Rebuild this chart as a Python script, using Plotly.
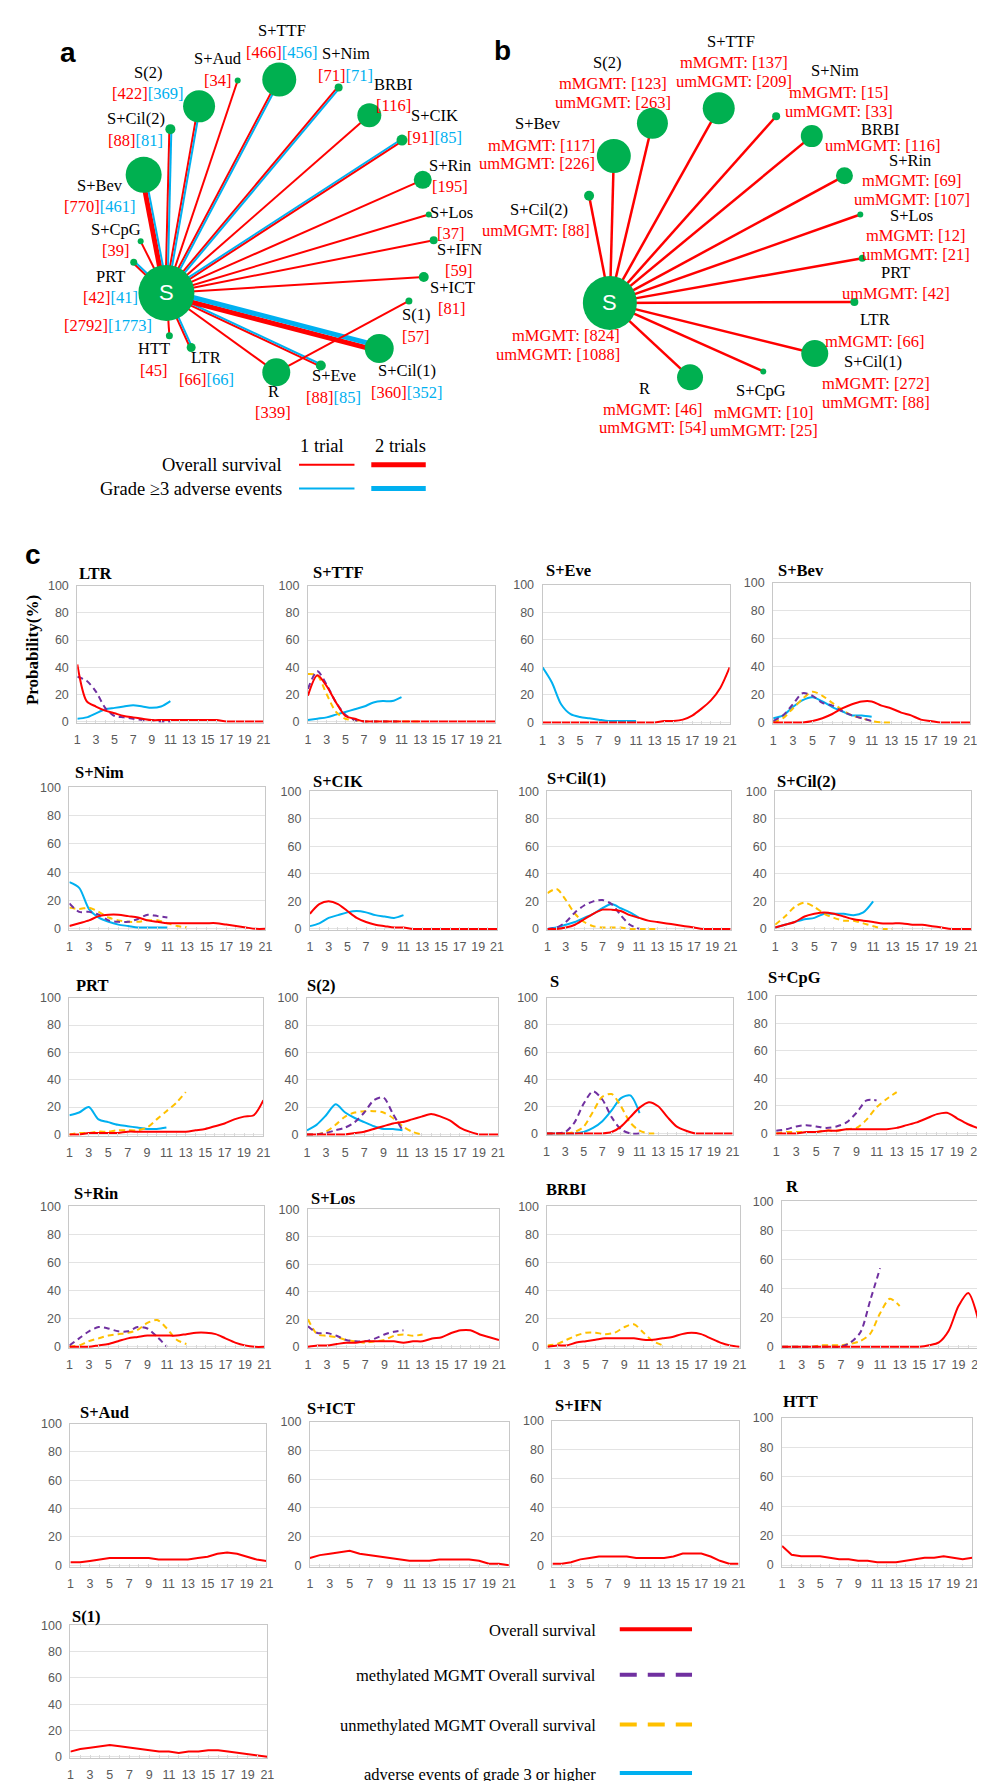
import math
import plotly.graph_objects as go

W, H = 985, 1781

# ------------------------------------------------------------------ DATA
# Panel a: network of overall survival / grade>=3 AE evidence
A_NODES = ["S", "S+TTF", "S+Aud", "S(2)", "S+Cil(2)", "S+Bev", "S+CpG", "PRT", "HTT", "LTR", "R",
           "S+Eve", "S+Cil(1)", "S(1)", "S+ICT", "S+IFN", "S+Los", "S+Rin", "S+CIK", "BRBI", "S+Nim"]
A_OS_N = [2792, 466, 34, 422, 88, 770, 39, 42, 45, 66, 339, 88, 360, 57, 81, 59, 37, 195, 91, 116, 71]
A_AE_N = [1773, 456, None, 369, 81, 461, None, 41, None, 66, None, 85, 352, None, None, None, None, None, 85, None, 71]

A_EDGE_FROM = ["S"] * 19 + ["R"]
A_EDGE_TO = ["S+TTF", "S+Aud", "S(2)", "S+Cil(2)", "S+Bev", "S+CpG", "PRT", "HTT", "LTR", "R", "S+Eve",
             "S+Cil(1)", "S+ICT", "S+IFN", "S+Los", "S+Rin", "S+CIK", "BRBI", "S+Nim", "S(1)"]
A_EDGE_OS_TRIALS = [1, 1, 1, 1, 2, 1, 1, 1, 1, 1, 1, 2, 1, 1, 1, 1, 1, 1, 1, 1]
A_EDGE_AE_TRIALS = [1, 0, 1, 1, 1, 0, 1, 0, 1, 0, 1, 2, 0, 0, 0, 0, 1, 0, 1, 0]

# Panel b: MGMT subgroup network
B_NODES = ["S", "S+Bev", "S(2)", "S+TTF", "S+Nim", "BRBI", "S+Rin", "S+Los", "PRT", "LTR",
           "S+Cil(1)", "S+CpG", "R", "S+Cil(2)"]
B_MMGMT_N = [824, 117, 123, 137, 15, None, 69, 12, None, 66, 272, 10, 46, None]
B_UMMGMT_N = [1088, 226, 263, 209, 33, 116, 107, 21, 42, None, 88, 25, 54, 88]

# Panel c: rank probabilities (%)
RANKS = [1, 2, 3, 4, 5, 6, 7, 8, 9, 10, 11, 12, 13, 14, 15, 16, 17, 18, 19, 20, 21]
RANK_TICKS = [1, 3, 5, 7, 9, 11, 13, 15, 17, 19, 21]
Y_TICKS = [0, 20, 40, 60, 80, 100]

C_ORDER = ["LTR", "S+TTF", "S+Eve", "S+Bev",
           "S+Nim", "S+CIK", "S+Cil(1)", "S+Cil(2)",
           "PRT", "S(2)", "S", "S+CpG",
           "S+Rin", "S+Los", "BRBI", "R",
           "S+Aud", "S+ICT", "S+IFN", "HTT",
           "S(1)"]

OS_PROB = {
    "LTR": [42, 15, 11, 8, 6, 4, 3, 2, 1, 1, 1, 1, 1, 1, 1, 1, 0, 0, 0, 0, 0],
    "S+TTF": [19, 34, 26, 14, 4, 2, 0, 0, 0, 0, 0, 0, 0, 0, 0, 0, 0, 0, 0, 0, 0],
    "S+Eve": [0, 0, 0, 0, 0, 0, 0, 0, 0, 0, 0, 0, 0, 1, 1, 2, 5, 10, 16, 25, 40],
    "S+Bev": [0, 0, 0, 0, 1, 3, 6, 10, 13, 15, 15, 12, 10, 7, 5, 2, 1, 0, 0, 0, 0],
    "S+Nim": [2, 4, 6, 9, 10, 10, 9, 8, 6, 5, 4, 4, 4, 4, 4, 4, 3, 2, 1, 0, 0],
    "S+CIK": [11, 18, 20, 18, 13, 8, 5, 3, 2, 1, 1, 0, 0, 0, 0, 0, 0, 0, 0, 0, 0],
    "S+Cil(1)": [0, 0, 1, 3, 7, 11, 14, 14, 13, 10, 8, 6, 5, 4, 3, 2, 1, 0, 0, 0, 0],
    "S+Cil(2)": [1, 3, 5, 9, 11, 12, 11, 9, 7, 6, 5, 4, 4, 4, 3, 3, 2, 1, 0, 0, 0],
    "PRT": [0, 0, 1, 1, 1, 1, 2, 2, 2, 2, 2, 2, 2, 3, 4, 6, 8, 11, 13, 14, 25],
    "S(2)": [0, 0, 0, 0, 0, 1, 2, 4, 6, 8, 9, 11, 13, 15, 13, 10, 5, 2, 0, 0, 0],
    "S": [0, 0, 0, 0, 0, 0, 0, 1, 5, 12, 19, 23, 20, 12, 5, 2, 0, 0, 0, 0, 0],
    "S+CpG": [0, 0, 0, 1, 1, 2, 2, 3, 3, 3, 3, 3, 4, 6, 8, 11, 14, 15, 11, 7, 4],
    "S+Rin": [0, 0, 0, 1, 2, 4, 6, 7, 8, 8, 8, 8, 9, 10, 10, 9, 6, 3, 1, 0, 0],
    "S+Los": [0, 1, 1, 2, 3, 3, 4, 4, 4, 4, 3, 4, 4, 6, 7, 10, 12, 12, 9, 7, 5],
    "BRBI": [0, 1, 1, 3, 4, 5, 6, 6, 6, 6, 5, 5, 6, 7, 9, 10, 9, 6, 3, 1, 0],
    "R": [0, 0, 0, 0, 0, 0, 0, 0, 0, 0, 0, 0, 0, 0, 0, 1, 3, 11, 28, 37, 19],
    "S+Aud": [2, 2, 3, 4, 5, 5, 5, 5, 5, 4, 4, 4, 4, 5, 6, 8, 9, 8, 6, 4, 3],
    "S+ICT": [5, 7, 8, 9, 10, 8, 7, 6, 5, 4, 3, 3, 3, 4, 4, 4, 4, 3, 1, 1, 0],
    "S+IFN": [1, 1, 2, 4, 5, 6, 6, 6, 6, 5, 5, 5, 5, 6, 8, 8, 8, 6, 3, 1, 1],
    "HTT": [13, 7, 6, 6, 6, 5, 4, 4, 3, 3, 2, 2, 2, 3, 4, 5, 5, 6, 5, 4, 5],
    "S(1)": [4, 6, 7, 8, 9, 8, 7, 6, 5, 4, 4, 3, 4, 4, 5, 5, 4, 3, 2, 1, 0],
}

MMGMT_PROB = {
    "LTR": [33, 30, 22, 10, 4, 3, 2, 1, 1, 0, 0],
    "S+TTF": [24, 37, 27, 14, 5, 1, 0, 0, 0, 0, 0],
    "S+Bev": [1, 5, 13, 21, 19, 14, 12, 8, 5, 3, 1],
    "S+Nim": [18, 12, 12, 10, 6, 5, 5, 7, 10, 9, 8],
    "S+Cil(1)": [0, 1, 5, 12, 17, 20, 21, 18, 10, 3, 0],
    "S(2)": [0, 0, 1, 3, 5, 9, 16, 25, 27, 15, 3],
    "S": [0, 0, 1, 8, 22, 31, 25, 12, 3, 0, 0],
    "S+CpG": [2, 3, 5, 6, 5, 4, 5, 8, 15, 24, 24],
    "S+Rin": [1, 6, 11, 14, 13, 11, 11, 14, 13, 7, 0],
    "S+Los": [15, 10, 10, 8, 5, 4, 4, 6, 9, 11, 12],
    "R": [0, 0, 0, 0, 0, 0, 0, 3, 10, 32, 54],
}

UMMGMT_PROB = {
    "S+TTF": [35, 34, 20, 7, 2, 1, 0, 0, 0, 0, 0, 0, 0],
    "S+Bev": [0, 3, 10, 17, 22, 19, 14, 9, 5, 3, 1, 0, 0],
    "S+Nim": [15, 14, 15, 12, 8, 6, 5, 5, 6, 6, 4, 2, 1],
    "S+Cil(1)": [26, 29, 21, 11, 5, 2, 1, 1, 1, 0, 0, 0, 0],
    "S+Cil(2)": [3, 9, 16, 19, 16, 11, 8, 6, 6, 4, 2, 0, 0],
    "PRT": [0, 1, 1, 2, 2, 3, 3, 3, 5, 11, 17, 23, 31],
    "S(2)": [0, 0, 2, 7, 13, 16, 17, 17, 16, 12, 6, 2, 0],
    "S": [0, 0, 0, 1, 5, 16, 27, 29, 20, 8, 2, 0, 0],
    "S+CpG": [0, 1, 1, 1, 1, 2, 2, 3, 4, 10, 19, 25, 30],
    "S+Rin": [0, 1, 4, 6, 8, 9, 10, 12, 17, 19, 13, 5, 2],
    "S+Los": [20, 9, 8, 7, 5, 4, 3, 4, 5, 8, 9, 8, 9],
    "BRBI": [1, 2, 5, 8, 10, 10, 9, 10, 14, 16, 10, 4, 1],
    "R": [0, 0, 0, 0, 1, 1, 1, 2, 4, 9, 23, 33, 28],
}

AE_PROB = {
    "LTR": [2, 3, 6, 9, 10, 11, 12, 11, 10, 11, 15],
    "S+TTF": [1, 2, 3, 5, 7, 9, 11, 14, 15, 15, 18],
    "S+Eve": [40, 29, 13, 6, 4, 3, 2, 1, 1, 1, 1],
    "S+Bev": [3, 5, 11, 16, 18, 15, 11, 8, 5, 5, 4],
    "S+Nim": [33, 29, 14, 8, 5, 3, 2, 1, 1, 1, 1],
    "S+CIK": [2, 4, 8, 10, 12, 13, 12, 10, 9, 8, 10],
    "S+Cil(1)": [0, 1, 3, 5, 8, 11, 15, 18, 15, 12, 8],
    "S+Cil(2)": [1, 3, 5, 7, 8, 11, 11, 11, 10, 12, 20],
    "PRT": [14, 16, 20, 11, 9, 7, 6, 5, 4, 4, 5],
    "S(2)": [3, 7, 14, 22, 16, 12, 9, 6, 4, 4, 3],
    "S": [0, 0, 0, 0, 1, 4, 9, 17, 26, 28, 15],
}

# ------------------------------------------------------------------ LAYOUT (pixel geometry)
A_POS = {  # x, y, marker diameter (px)
    "S": (157, 280, 56), "S+TTF": (271, 65, 34), "S+Aud": (229, 66, 6), "S(2)": (190, 92, 32),
    "S+Cil(2)": (161, 115, 10), "S+Bev": (134, 161, 36), "S+CpG": (131, 228, 6), "PRT": (124, 249, 7),
    "HTT": (160, 323, 7), "LTR": (182, 335, 9), "R": (268, 360, 28), "S+Eve": (313, 353, 10),
    "S+Cil(1)": (372, 336, 29), "S(1)": (402, 288, 7), "S+ICT": (417, 264, 10), "S+IFN": (427, 227, 8),
    "S+Los": (422, 201, 6), "S+Rin": (416, 166, 18), "S+CIK": (395, 126, 11), "BRBI": (362, 101, 24),
    "S+Nim": (331, 73, 8),
}
A_LABELS = {  # x, y of name, y of numbers
    "S+TTF": (274, 16, 38), "S+Aud": (209, 44, 66), "S+Nim": (338, 39, 61), "S(2)": (138, 58, 79),
    "BRBI": (386, 70, 91), "S+CIK": (428, 101, 123), "S+Cil(2)": (126, 104, 126), "S+Rin": (444, 152, 173),
    "S+Bev": (90, 172, 193), "S+Los": (445, 199, 220), "S+CpG": (106, 216, 237), "S+IFN": (453, 236, 257),
    "PRT": (101, 263, 285), "S+ICT": (446, 274, 296), "S": (98, None, 313), "S(1)": (409, 302, 324),
    "HTT": (144, 336, 358), "LTR": (197, 345, 367), "R": (265, 379, 400), "S+Eve": (326, 363, 385),
    "S+Cil(1)": (400, 358, 380),
}
B_POS = {
    "S": (605, 290, 54), "S+Bev": (609, 142, 34), "S(2)": (648, 109, 31), "S+TTF": (715, 94, 32),
    "S+Nim": (773, 102, 8), "BRBI": (809, 122, 22), "S+Rin": (842, 162, 17), "S+Los": (858, 201, 6),
    "PRT": (860, 245, 7), "LTR": (852, 289, 8), "S+Cil(1)": (812, 341, 27), "S+CpG": (760, 359, 6),
    "R": (686, 365, 26), "S+Cil(2)": (584, 182, 10),
}
B_LABELS = {  # name_x, name_y, num_x, num_y, num_anchor
    "S+TTF": (727, 27, 730, 48, "center"), "S(2)": (602, 48, 608, 69, "center"),
    "S+Nim": (832, 56, 836, 78, "center"), "S+Bev": (532, 109, 592, 131, "right"),
    "BRBI": (878, 115, 880, 131, "center"), "S+Rin": (908, 147, 910, 167, "center"),
    "S+Cil(2)": (533, 196, 587, 217, "right"), "S+Los": (910, 202, 914, 222, "center"),
    "PRT": (894, 259, 894, 281, "center"), "LTR": (873, 307, 873, 329, "center"),
    "S+Cil(1)": (871, 349, 874, 371, "center"), "R": (640, 376, 649, 397, "center"),
    "S+CpG": (758, 378, 761, 400, "center"), "S": (None, None, 617, 323, "right"),
}
C_RECT = {  # left, right, top(100), bottom(0)
    "LTR": (67, 255, 575, 713), "S+TTF": (300, 489, 575, 713), "S+Eve": (537, 726, 574, 714),
    "S+Bev": (770, 969, 572, 714),
    "S+Nim": (59, 257, 778, 922), "S+CIK": (302, 491, 782, 922), "S+Cil(1)": (542, 727, 782, 922),
    "S+Cil(2)": (772, 970, 782, 922),
    "PRT": (59, 255, 990, 1129), "S(2)": (299, 492, 990, 1129), "S": (541, 729, 990, 1128),
    "S+CpG": (773, 976, 988, 1128),
    "S+Rin": (59, 256, 1200, 1343), "S+Los": (300, 493, 1203, 1343), "BRBI": (542, 736, 1200, 1343),
    "R": (779, 977, 1195, 1343),
    "S+Aud": (60, 258, 1419, 1563), "S+ICT": (302, 503, 1417, 1563), "S+IFN": (547, 735, 1416, 1563),
    "HTT": (779, 971, 1413, 1563),
    "S(1)": (60, 259, 1622, 1756),
}
C_TITLE = {
    "LTR": (67, 563), "S+TTF": (303, 562), "S+Eve": (538, 560), "S+Bev": (773, 560),
    "S+Nim": (63, 763), "S+CIK": (303, 772), "S+Cil(1)": (539, 769), "S+Cil(2)": (772, 772),
    "PRT": (64, 978), "S(2)": (297, 978), "S": (543, 974), "S+CpG": (763, 970),
    "S+Rin": (62, 1187), "S+Los": (301, 1192), "BRBI": (538, 1183), "R": (781, 1180),
    "S+Aud": (68, 1408), "S+ICT": (297, 1404), "S+IFN": (548, 1401), "HTT": (778, 1397),
    "S(1)": (60, 1613),
}
LINEAR_PANELS = {"S+Aud", "S+ICT", "S+IFN", "HTT", "S(1)"}

RED = "#FF0000"
BLUE = "#00B0F0"
PURPLE = "#7030A0"
ORANGE = "#FFC000"
GREEN = "#00B050"
SERIF = "Liberation Serif, Times New Roman, serif"
SANS = "Liberation Sans, Arial, sans-serif"
TRIAL_WIDTH = {1: 2, 2: 5}

fig = go.Figure()
annotations = []
shapes = []


def text(x, y, s, size=16.5, color="black", family=SERIF, xanchor="center", bold=False, angle=0):
    if bold:
        s = "<b>" + s + "</b>"
    annotations.append(dict(x=x, y=y, xref="x", yref="y", text=s, showarrow=False,
                            xanchor=xanchor, yanchor="middle", textangle=angle,
                            font=dict(family=family, size=size, color=color)))


def seg(x0, y0, x1, y1, color, width):
    fig.add_trace(go.Scatter(x=[x0, x1], y=[y0, y1], mode="lines", xaxis="x", yaxis="y",
                             line=dict(color=color, width=width), hoverinfo="skip"))


# ------------------------------------------------------------------ PANEL A
for f, t, osn, aen in zip(A_EDGE_FROM, A_EDGE_TO, A_EDGE_OS_TRIALS, A_EDGE_AE_TRIALS):
    x0, y0, _ = A_POS[f]
    x1, y1, _ = A_POS[t]
    L = math.hypot(x1 - x0, y1 - y0)
    ux, uy = (x1 - x0) / L, (y1 - y0) / L
    px, py = -uy, ux
    if px - py < 0:
        px, py = -px, -py
    wr = TRIAL_WIDTH[osn]
    if aen:
        wb = TRIAL_WIDTH[aen]
        sep = (wr + wb) / 2.0
        orr, ob = -sep / 2.0, sep / 2.0
    else:
        orr = 0
    seg(x0 + px * orr, y0 + py * orr, x1 + px * orr, y1 + py * orr, RED, wr)
    if aen:
        seg(x0 + px * ob, y0 + py * ob, x1 + px * ob, y1 + py * ob, BLUE, wb)

fig.add_trace(go.Scatter(x=[A_POS[n][0] for n in A_NODES], y=[A_POS[n][1] for n in A_NODES],
                         mode="markers", xaxis="x", yaxis="y", hoverinfo="skip",
                         marker=dict(color=GREEN, opacity=1, size=[A_POS[n][2] for n in A_NODES],
                                     line=dict(width=0))))
text(A_POS["S"][0], A_POS["S"][1], "S", size=22, color="white", family=SANS)

for n, osv, aev in zip(A_NODES, A_OS_N, A_AE_N):
    lx, ly_name, ly_num = A_LABELS[n]
    if ly_name is not None:
        text(lx, ly_name, n)
    s = '<span style="color:%s">[%d]</span>' % (RED, osv)
    if aev is not None:
        s += '<span style="color:%s">[%d]</span>' % (BLUE, aev)
    text(lx, ly_num, s)

text(58, 38, "a", size=28, family=SANS, bold=True)

# legend panel a
text(314, 434, "1 trial", size=18.5)
text(393, 434, "2 trials", size=18.5)
text(276, 453, "Overall survival", size=18.5, xanchor="right")
text(276, 477, "Grade ≥3 adverse events", size=18.5, xanchor="right")
for (xa, xb, yy, col, w) in [(291, 347, 453, RED, 2), (364, 419, 453, RED, 5),
                             (291, 347, 477, BLUE, 2), (364, 419, 477, BLUE, 5)]:
    shapes.append(dict(type="line", xref="x", yref="y", x0=xa, x1=xb, y0=yy, y1=yy,
                       line=dict(color=col, width=w)))

# ------------------------------------------------------------------ PANEL B
for n in B_NODES[1:]:
    x0, y0, _ = B_POS["S"]
    x1, y1, _ = B_POS[n]
    seg(x0, y0, x1, y1, RED, 2.5)
fig.add_trace(go.Scatter(x=[B_POS[n][0] for n in B_NODES], y=[B_POS[n][1] for n in B_NODES],
                         mode="markers", xaxis="x", yaxis="y", hoverinfo="skip",
                         marker=dict(color=GREEN, opacity=1, size=[B_POS[n][2] for n in B_NODES],
                                     line=dict(width=0))))
text(B_POS["S"][0], B_POS["S"][1], "S", size=22, color="white", family=SANS)

for n, mv, uv in zip(B_NODES, B_MMGMT_N, B_UMMGMT_N):
    nx, ny, mx, my, anc = B_LABELS[n]
    if nx is not None:
        text(nx, ny, n)
    yy = my
    if mv is not None:
        text(mx, yy, "mMGMT: [%d]" % mv, color=RED, xanchor=anc)
        yy += 19
    if uv is not None:
        text(mx, yy, "umMGMT: [%d]" % uv, color=RED, xanchor=anc)

text(497, 36, "b", size=28, family=SANS, bold=True)

# ------------------------------------------------------------------ PANEL C
text(22, 543, "c", size=28, family=SANS, bold=True)
text(22, 640, "Probability(%)", size=17, bold=True, angle=-90)

axes = {}
tickfont = dict(family=SANS, size=12.5, color="#595959")
for k, name in enumerate(C_ORDER):
    idx = k + 2
    left, right, top, bottom = C_RECT[name]
    axes["xaxis%d" % idx] = dict(
        domain=[left / W, right / W], range=[1, 21], anchor="y%d" % idx,
        tickmode="array", tickvals=RANK_TICKS, ticks="inside", ticklen=3, tickcolor="#D9D9D9",
        minor=dict(tickmode="array", tickvals=RANKS, ticks="inside", ticklen=3, tickcolor="#D9D9D9"),
        showgrid=False, zeroline=False, showline=True, mirror=True, linecolor="#C8C8C8", linewidth=1,
        tickfont=tickfont, ticklabelstandoff=5, fixedrange=True)
    axes["yaxis%d" % idx] = dict(
        domain=[1 - bottom / H, 1 - top / H], range=[-1, 100], anchor="x%d" % idx,
        tickmode="array", tickvals=Y_TICKS, showgrid=True, gridcolor="#E3E3E3", gridwidth=1,
        zeroline=False, showline=True, mirror=True, linecolor="#C8C8C8", linewidth=1,
        tickfont=tickfont, ticklabelstandoff=5, fixedrange=True)
    tx, ty = C_TITLE[name]
    text(tx, ty, name, size=16.5, bold=True, xanchor="left")

    shape = "linear" if name in LINEAR_PANELS else "spline"
    series = [(AE_PROB, BLUE, "solid"), (UMMGMT_PROB, ORANGE, "6px,4px"),
              (MMGMT_PROB, PURPLE, "6px,4px"), (OS_PROB, RED, "solid")]
    for src, col, dash in series:
        if name not in src:
            continue
        vals = src[name]
        fig.add_trace(go.Scatter(
            x=RANKS[:len(vals)], y=vals, mode="lines", xaxis="x%d" % idx, yaxis="y%d" % idx,
            line=dict(color=col, width=2, dash=dash, shape=shape, smoothing=0.8), hoverinfo="skip"))

# legend panel c
legend_items = [("Overall survival", 1627, RED, "solid"),
                ("methylated MGMT Overall survival", 1673, PURPLE, "17px,11px"),
                ("unmethylated MGMT Overall survival", 1723, ORANGE, "17px,11px"),
                ("adverse events of grade 3 or higher", 1772, BLUE, "solid")]
for lab, yy, col, dash in legend_items:
    text(593, yy, lab, size=16.5, xanchor="right")
    shapes.append(dict(type="line", xref="x", yref="y", x0=615, x1=688, y0=yy - 1, y1=yy - 1,
                       line=dict(color=col, width=4, dash=dash)))

fig.update_layout(
    width=W, height=H, margin=dict(l=0, r=0, t=0, b=0),
    paper_bgcolor="white", plot_bgcolor="rgba(0,0,0,0)", showlegend=False,
    xaxis=dict(domain=[0, 1], range=[0, W], visible=False, fixedrange=True),
    yaxis=dict(domain=[0, 1], range=[H, 0], visible=False, fixedrange=True),
    annotations=annotations, shapes=shapes, **axes)

fig.write_html("out.html")
